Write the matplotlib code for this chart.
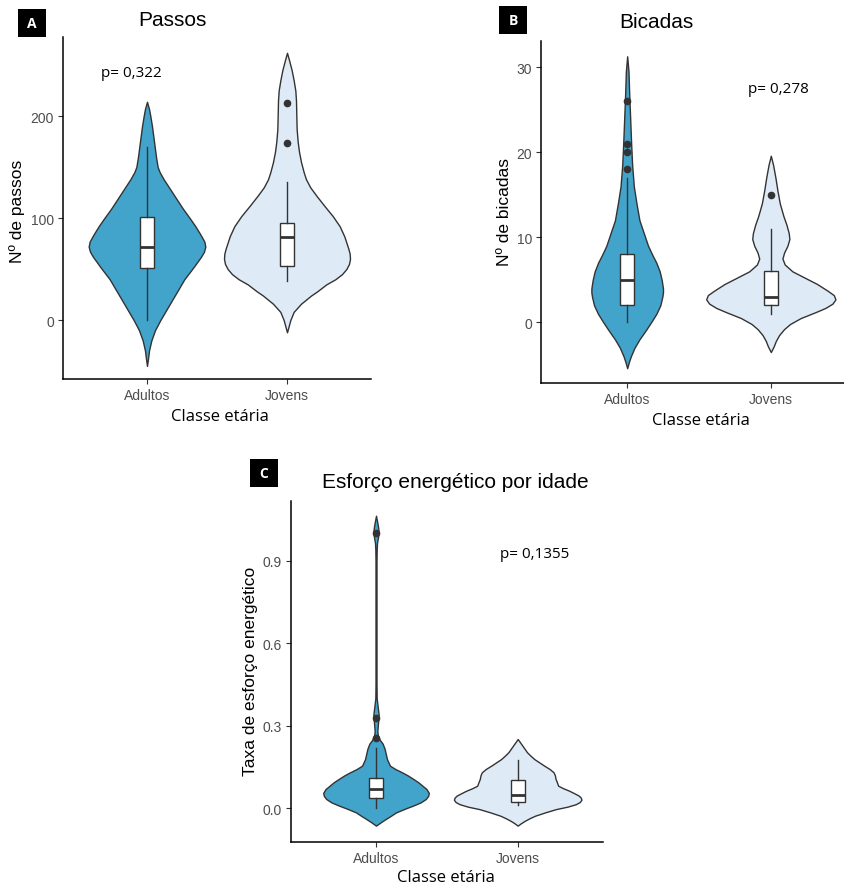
import matplotlib.pyplot as plt
from matplotlib.patches import Rectangle

groups = ["Adultos", "Jovens"]

# A - Passos: violin outline (level, relative density)
passos_ad_y = [-45, -38, -30, -20, -10, 0, 10, 20, 30, 40, 52, 62, 67, 72, 77, 84, 92, 100, 109,
               118, 128, 138, 145, 150, 160, 170, 180, 190, 200, 207, 214]
passos_ad_w = [0, 3, 6, 13, 24, 40, 58, 76, 94, 112, 140, 162, 171, 175, 172, 160, 145, 128, 108,
               90, 70, 50, 38, 32, 27, 23, 19, 15, 10, 6, 0]
passos_jo_y = [-12, -6, 0, 8, 16, 24, 28, 35, 40, 45, 50, 55, 60, 65, 70, 82, 92, 102, 112, 122,
               130, 138, 145, 155, 165, 175, 187, 200, 215, 225, 235, 245, 255, 262]
passos_jo_w = [0, 5, 10, 20, 42, 72, 90, 118, 145, 165, 178, 186, 189, 188, 184, 172, 158, 137,
               112, 88, 70, 57, 50, 42, 36, 32, 29, 28, 27, 25, 20, 14, 6, 0]
# box stats: whislo, q1, med, q3, whishi
passos_box = [[0, 51.5, 72, 100.7, 169.5], [38, 52.5, 81, 95, 135]]
passos_out = [[], [174, 213]]

# B - Bicadas
bic_ad_y = [-5.4, -4.7, -4, -3, -2, -1, 0, 1, 2, 3, 3.5, 4, 5, 6, 7, 8, 9, 10.5, 12, 14, 16, 18.5,
            21, 24, 27, 29.5, 31.3]
bic_ad_w = [0, 5, 11, 22, 37, 55, 72, 88, 100, 106, 108, 108, 104, 98, 88, 75, 63, 50, 37, 28, 20,
            15, 12, 9, 6, 4, 0]
bic_jo_y = [-3.5, -2.8, -2.2, -1.5, -0.8, -0.2, 0.5, 1.2, 1.7, 2.2, 2.7, 3.2, 3.7, 4.5, 5.2, 6,
            6.8, 7.5, 8.2, 9, 9.8, 10.5, 11.5, 12.5, 14, 15.5, 17, 18.5, 19.6]
bic_jo_w = [0, 9, 15, 25, 40, 58, 90, 135, 165, 186, 195, 190, 172, 140, 105, 65, 42, 35, 40,
            50, 56, 54, 47, 38, 27, 20, 14, 7, 0]
bic_box = [[0, 2, 5, 8, 17], [1, 2, 3, 6, 11]]
bic_out = [[18, 20, 21, 26], [15]]

# C - Esforco energetico
esf_ad_y = [-0.063, -0.051, -0.039, -0.027, -0.015, 0.0, 0.01, 0.022, 0.034, 0.045, 0.056, 0.07,
            0.082, 0.095, 0.107, 0.12, 0.131, 0.143, 0.155, 0.179, 0.2, 0.216, 0.235, 0.248, 0.262,
            0.28, 0.31, 0.34, 0.37, 0.4, 0.45, 0.6, 0.8, 0.9, 0.94, 0.965, 0.985, 1.005, 1.025,
            1.045, 1.064]
esf_ad_w = [0, 14, 29, 45, 60, 90, 112, 135, 150, 157, 159, 152, 140, 127, 112, 95, 78, 58, 42,
            33, 29, 26, 20, 12, 6, 4, 6, 8, 5, 2, 1.5, 1.5, 1.5, 1.5, 2, 3, 6, 8, 6, 3, 0]
esf_jo_y = [-0.063, -0.054, -0.045, -0.036, -0.027, -0.015, -0.003, 0.006, 0.015, 0.023, 0.031,
            0.039, 0.046, 0.055, 0.064, 0.073, 0.082, 0.095, 0.107, 0.12, 0.131, 0.143, 0.155,
            0.167, 0.179, 0.192, 0.204, 0.216, 0.228, 0.24, 0.252]
esf_jo_w = [0, 10, 22, 36, 52, 82, 115, 150, 175, 187, 192, 190, 184, 170, 155, 137, 122, 118,
            114, 112, 108, 96, 80, 65, 50, 38, 28, 21, 14, 7, 0]
esf_box = [[0, 0.036, 0.07, 0.109, 0.219], [0.012, 0.022, 0.05, 0.103, 0.176]]
esf_out = [[0.255, 0.33, 1.0], []]

fills = ["#42A3CB", "#DEEBF7"]
dark = "#333333"
W, H = 845, 887

fig = plt.figure(figsize=(8.45, 8.87), dpi=100)


def px_axes(l, t, r, b):
    return fig.add_axes([l / W, 1 - b / H, (r - l) / W, (b - t) / H])


def panel(ax, prof, box, outs, ylim, yticks, yticklabels, ylab, ylab_xy, xlab_xy):
    wmax = max(max(w) for _, w in prof)
    for i, (ys, ws) in enumerate(prof):
        pos = i + 1
        half = [0.45 * w / wmax for w in ws]
        ax.fill_betweenx(ys, [pos - h for h in half], [pos + h for h in half],
                         facecolor=fills[i], edgecolor=dark, linewidth=1.0, zorder=1)
    stats = []
    for b, o in zip(box, outs):
        stats.append(dict(whislo=b[0], q1=b[1], med=b[2], q3=b[3], whishi=b[4], fliers=o))
    ax.bxp(stats, positions=[1, 2], widths=0.1, showcaps=False, patch_artist=True,
           boxprops=dict(facecolor="white", edgecolor=dark, linewidth=1.0),
           whiskerprops=dict(color=dark, linewidth=1.0),
           medianprops=dict(color=dark, linewidth=2.0),
           flierprops=dict(marker="o", markersize=4.5, markerfacecolor=dark,
                           markeredgecolor=dark))
    ax.set_xlim(0.4, 2.6)
    ax.set_ylim(*ylim)
    ax.set_xticks([1, 2])
    ax.set_xticklabels(groups)
    ax.set_yticks(yticks)
    ax.set_yticklabels(yticklabels)
    for s in ["top", "right"]:
        ax.spines[s].set_visible(False)
    for s in ["left", "bottom"]:
        ax.spines[s].set_linewidth(1.1)
        ax.spines[s].set_color("black")
    ax.tick_params(length=3.5, width=0.8, color=dark, labelcolor="#4D4D4D", pad=3)
    for t in ax.get_xticklabels() + ax.get_yticklabels():
        t.set_fontfamily("Liberation Sans")
        t.set_fontsize(10)
    ax.set_ylabel(ylab, family="Liberation Sans", fontsize=12.5, va="center")
    ax.yaxis.set_label_coords(*ylab_xy)
    ax.set_xlabel("Classe etária", family="Open Sans", fontsize=12, va="center")
    ax.xaxis.set_label_coords(*xlab_xy)


def letter(l, t, s):
    fig.add_artist(Rectangle((l / W, 1 - (t + 28) / H), 28 / W, 28 / H,
                             transform=fig.transFigure, facecolor="black", edgecolor="none"))
    fig.text((l + 14) / W, 1 - (t + 14) / H, s, color="white", fontsize=10,
             fontweight="bold", family="Open Sans", ha="center", va="center")


axA = px_axes(63, 38, 371, 380)
panel(axA, [(passos_ad_y, passos_ad_w), (passos_jo_y, passos_jo_w)], passos_box, passos_out,
      (-57.8, 277.5), [0, 100, 200], ["0", "100", "200"], "Nº de passos",
      (-0.149, 0.494), (0.509, -0.108))
axA.text(0.89, 243, "p= 0,322", family="Open Sans", fontsize=11, ha="center", va="center")

axB = px_axes(541, 42, 857, 384)
panel(axB, [(bic_ad_y, bic_ad_w), (bic_jo_y, bic_jo_w)], bic_box, bic_out,
      (-7.14, 33.1), [0, 10, 20, 30], ["0", "10", "20", "30"], "Nº de bicadas",
      (-0.117, 0.503), (0.506, -0.107))
axB.text(2.05, 27.5, "p= 0,278", family="Open Sans", fontsize=11, ha="center", va="center")

axC = px_axes(291, 501.7, 602.7, 843)
panel(axC, [(esf_ad_y, esf_ad_w), (esf_jo_y, esf_jo_w)], esf_box, esf_out,
      (-0.1225, 1.1185), [0, 0.3, 0.6, 0.9], ["0.0", "0.3", "0.6", "0.9"],
      "Taxa de esforço energético", (-0.129, 0.502), (0.497, -0.102))
axC.text(2.12, 0.925, "p= 0,1355", family="Open Sans", fontsize=11, ha="center", va="center")

fig.text(172 / W, 1 - 21 / H, "Passos", family="Liberation Sans", fontsize=15,
         ha="center", va="center")
fig.text(656 / W, 1 - 23 / H, "Bicadas", family="Liberation Sans", fontsize=15,
         ha="center", va="center")
fig.text(455 / W, 1 - 482 / H, "Esforço energético por idade", family="Liberation Sans",
         fontsize=15, ha="center", va="center")

letter(18, 10, "A")
letter(499, 7, "B")
letter(250, 460, "C")

fig.savefig("out.png", dpi=100)
